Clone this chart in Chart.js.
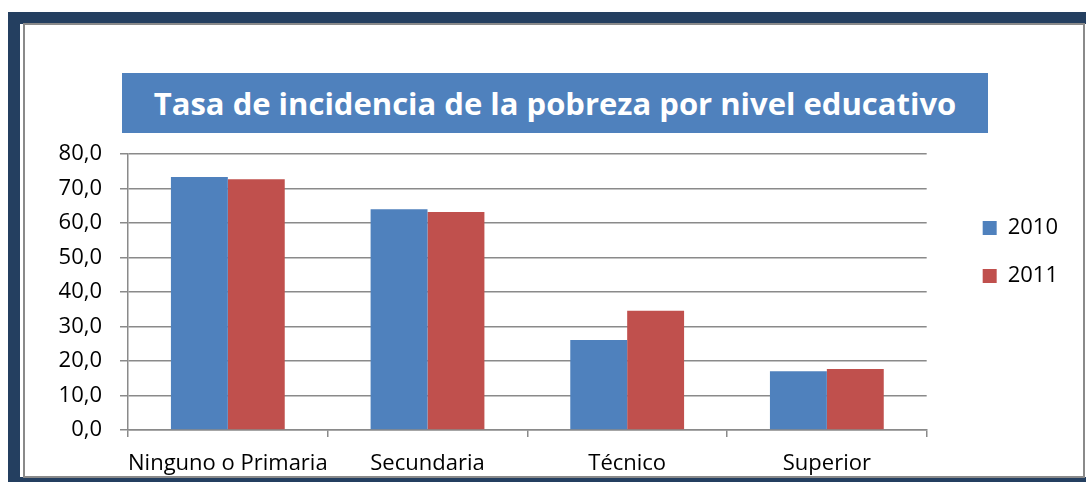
<!DOCTYPE html>
<html>
<head>
<meta charset="utf-8">
<script src="https://cdn.jsdelivr.net/npm/chart.js@4"></script>
<style>
  html, body { margin: 0; padding: 0; background: #fff; }
  body { width: 1086px; height: 482px; position: relative; overflow: hidden; }
  #frame { position: absolute; left: 8px; top: 12px; width: 1078px; height: 470px; background: #243f60; }
  #inner { position: absolute; left: 20px; top: 24px; width: 1066px; height: 453px; background: #fff; }
  #panel { position: absolute; left: 23px; top: 23px; width: 1062px; height: 455px; border: 2px solid #8a8a8a; box-sizing: border-box; }
  #titleBox { position: absolute; left: 122px; top: 73px; width: 866px; height: 60px; background: #4f81bd;
    color: #fff; font: bold 31px "Open Sans", sans-serif; text-align: center; line-height: 60px; }
  #wrap { position: absolute; left: 0; top: 0; width: 1086px; height: 482px; }
</style>
</head>
<body>
<div id="frame"></div>
<div id="inner"></div>
<div id="panel"></div>
<div id="titleBox">Tasa de incidencia de la pobreza por nivel educativo</div>
<div id="wrap"><canvas id="myChart"></canvas></div>
<script>
// datos
const categories = ['Ninguno o Primaria', 'Secundaria', 'Técnico', 'Superior'];
const valores2010 = [73.3, 64.0, 26.1, 17.0];
const valores2011 = [72.7, 63.2, 34.6, 17.7];
const seriesLabels = ['2010', '2011'];

const fontFamily = '"Open Sans", sans-serif';

// mueve la leyenda un poco a la derecha y abajo, como en el original
const moverLeyenda = {
    id: 'moverLeyenda',
    afterLayout(chart) {
        const lg = chart.legend;
        lg.left += 30; lg.right += 30;
        lg.top += 37; lg.bottom += 37;
    }
};

const ctx = document.getElementById('myChart').getContext('2d');
new Chart(ctx, {
    type: 'bar',
    data: {
        labels: categories,
        datasets: [{
            label: seriesLabels[0],
            data: valores2010,
            backgroundColor: '#4f81bd',
            categoryPercentage: 0.57,
            barPercentage: 1.0
        }, {
            label: seriesLabels[1],
            data: valores2011,
            backgroundColor: '#c0504d',
            categoryPercentage: 0.57,
            barPercentage: 1.0
        }]
    },
    options: {
        responsive: true,
        maintainAspectRatio: false,
        animation: false,
        layout: { padding: { top: 154, left: 25, right: 48, bottom: 0 } },
        plugins: {
            title: { display: false },
            tooltip: { enabled: false },
            legend: {
                position: 'right',
                align: 'start',
                labels: {
                    color: '#000',
                    font: { family: fontFamily, size: 22 },
                    boxWidth: 14,
                    boxHeight: 14,
                    padding: 26
                }
            }
        },
        scales: {
            x: {
                afterFit: s => { s.height = 52; },
                grid: { offset: true, drawOnChartArea: false, color: '#8a8a8a', lineWidth: 1.5, tickLength: 7 },
                border: { color: '#8a8a8a', width: 1.5 },
                ticks: { color: '#000', font: { family: fontFamily, size: 22 }, padding: 14, maxRotation: 0, autoSkip: false }
            },
            y: {
                min: 0,
                max: 80,
                afterFit: s => { s.width = 103; },
                grid: { color: '#8a8a8a', lineWidth: 1.5, tickLength: 8 },
                border: { color: '#8a8a8a', width: 1.5 },
                ticks: {
                    stepSize: 10,
                    color: '#000',
                    font: { family: fontFamily, size: 22 },
                    padding: 18,
                    callback: v => v.toFixed(1).replace('.', ',')
                }
            }
        }
    },
    plugins: [moverLeyenda]
});
</script>
</body>
</html>
